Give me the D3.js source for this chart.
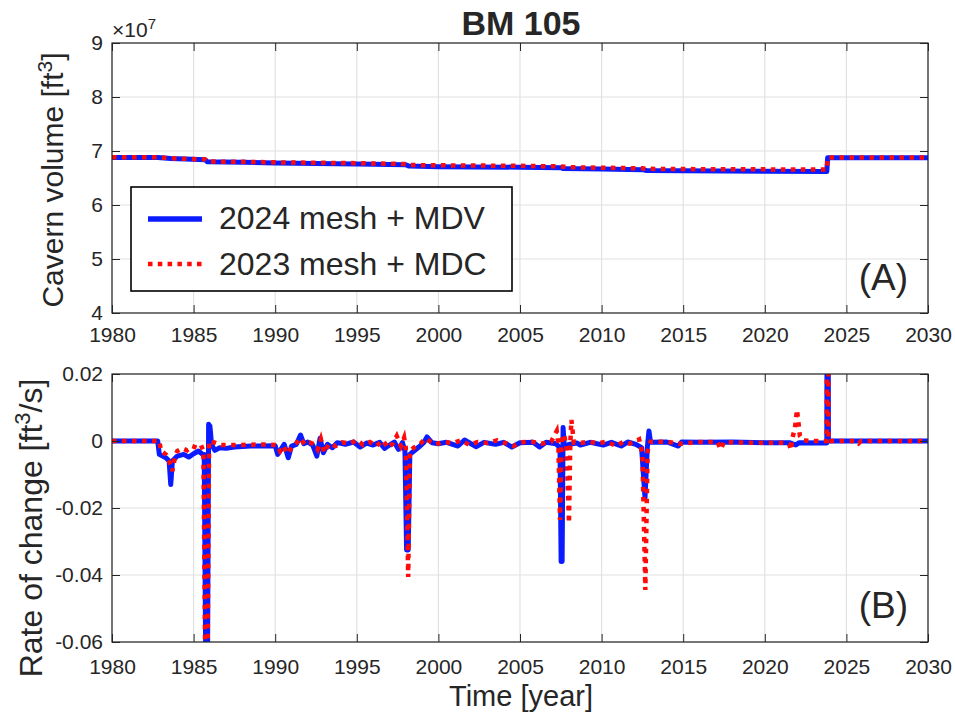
<!DOCTYPE html>
<html>
<head>
<meta charset="utf-8">
<script src="https://cdn.jsdelivr.net/npm/d3@7"></script>
<style>
  body { margin: 0; background: #fff; }
  text { font-family: "Liberation Sans", Arial, sans-serif; fill: #262626; }
</style>
</head>
<body>
<svg id="chart" width="955" height="715"></svg>
<script>
// ---- data ----
const xTicks = [1980, 1985, 1990, 1995, 2000, 2005, 2010, 2015, 2020, 2025, 2030];
const volTicks = [4, 5, 6, 7, 8, 9];            // x 1e7 ft^3
const rateTicks = [-0.06, -0.04, -0.02, 0, 0.02]; // ft^3/s
const seriesNames = ["2024 mesh + MDV", "2023 mesh + MDC"];

// cavern volume, units of 1e7 ft^3
const volMDV = [
  [1980, 6.88], [1982.8, 6.88], [1983.0, 6.875], [1983.6, 6.86], [1984.5, 6.85],
  [1985.7, 6.84], [1985.85, 6.80], [1988, 6.79], [1990, 6.78], [1995, 6.76],
  [1998.0, 6.745], [1998.2, 6.72], [2000, 6.71], [2005, 6.70], [2007.5, 6.69],
  [2007.65, 6.675], [2010, 6.665], [2012.5, 6.655], [2012.75, 6.64], [2015, 6.635],
  [2020, 6.625], [2023.8, 6.62], [2023.85, 6.875], [2030, 6.875]
];
const volMDC = [
  [1980, 6.885], [1982.8, 6.885], [1983.0, 6.88], [1983.6, 6.865], [1984.5, 6.855],
  [1985.7, 6.845], [1985.85, 6.805], [1988, 6.80], [1990, 6.79], [1995, 6.775],
  [1998.0, 6.76], [1998.2, 6.74], [2000, 6.735], [2005, 6.725], [2007.5, 6.715],
  [2008.0, 6.70], [2010, 6.69], [2012.5, 6.68], [2012.75, 6.67], [2015, 6.665],
  [2020, 6.66], [2023.8, 6.655], [2023.85, 6.88], [2030, 6.88]
];

// rate of change, ft^3/s
const rateMDV = [
  [1980, 0], [1982.8, 0], [1982.9, -0.004], [1983.3, -0.005], [1983.5, -0.006],
  [1983.6, -0.013], [1983.7, -0.006], [1984.0, -0.0045], [1984.4, -0.004], [1984.7, -0.0048],
  [1985.0, -0.0038], [1985.3, -0.003], [1985.55, -0.004], [1985.65, -0.004], [1985.75, -0.07],
  [1985.85, -0.07], [1985.92, 0.005], [1986.0, 0.0045], [1986.1, -0.001], [1986.3, -0.0028],
  [1986.6, -0.002], [1987.0, -0.0022], [1987.5, -0.0018], [1988.5, -0.0015], [1990.0, -0.0014],
  [1990.15, -0.004], [1990.35, -0.0025], [1990.55, -0.001], [1990.8, -0.005], [1991.0, -0.0015],
  [1991.3, -0.001], [1991.55, 0.0018], [1991.75, -0.0008], [1992.0, -0.0003], [1992.3, -0.0012],
  [1992.55, -0.0045], [1992.75, 0.0008], [1992.95, -0.0035], [1993.2, -0.001], [1993.5, -0.002],
  [1993.8, -0.0005], [1994.3, -0.001], [1994.8, -0.0003], [1995.2, -0.0018], [1995.6, -0.0006],
  [1996.0, -0.0012], [1996.4, -0.0004], [1996.7, -0.0022], [1997.0, -0.0012], [1997.3, -0.0003],
  [1997.55, -0.0025], [1997.8, -0.0005], [1997.95, -0.003], [1998.05, -0.0325], [1998.15, -0.0325],
  [1998.25, -0.004], [1998.5, -0.003], [1998.8, -0.0018], [1999.1, -0.0005], [1999.3, 0.0012],
  [1999.6, -0.0005], [2000.0, -0.0008], [2000.5, -0.0004], [2001.2, -0.0015], [2001.6, 0.0003],
  [2002.3, -0.0017], [2002.8, -0.0004], [2003.5, -0.001], [2004.0, -0.0004], [2004.5, -0.0018],
  [2005.0, -0.0005], [2005.8, -0.0004], [2006.2, -0.0018], [2006.6, -0.0004], [2007.2, -0.0008],
  [2007.45, -0.002], [2007.52, -0.036], [2007.58, -0.036], [2007.64, 0.004], [2007.72, -0.002],
  [2008.0, -0.001], [2008.5, -0.0006], [2008.7, -0.0012], [2009.3, -0.0004], [2010.1, -0.0012],
  [2010.6, -0.0004], [2011.2, -0.0015], [2011.6, -0.0003], [2012.1, -0.001], [2012.45, -0.002],
  [2012.66, -0.017], [2012.8, -0.002], [2012.9, 0.003], [2013.0, -0.0004], [2014.0, -0.0003],
  [2014.7, -0.0015], [2014.9, -0.0003], [2016.0, -0.0004], [2018.0, -0.0003], [2020.0, -0.0005],
  [2021.5, -0.0005], [2021.9, -0.0012], [2022.1, -0.0005], [2023.8, -0.0006], [2023.82, 0.05],
  [2023.88, 0.05], [2023.9, 0], [2030, 0]
];
const rateMDC = [
  [1980, 0], [1982.9, 0], [1983.0, -0.003], [1983.3, -0.004], [1983.5, -0.006],
  [1983.7, -0.009], [1983.85, -0.005], [1984.0, -0.003], [1984.3, -0.0022], [1984.6, -0.0028],
  [1984.9, -0.0015], [1985.2, -0.002], [1985.45, -0.0012], [1985.6, -0.003], [1985.72, -0.07],
  [1985.85, -0.07], [1985.95, 0], [1986.3, -0.0005], [1986.7, -0.0012], [1987.5, -0.0012],
  [1989.5, -0.001], [1990.1, -0.0012], [1990.3, -0.003], [1990.5, -0.0015], [1990.75, -0.0038],
  [1991.0, -0.002], [1991.3, -0.0006], [1991.55, 0.0008], [1991.8, -0.001], [1992.1, -0.0004],
  [1992.4, -0.001], [1992.6, -0.0025], [1992.8, 0.0005], [1993.0, -0.0035], [1993.3, -0.0008],
  [1993.7, -0.0015], [1994.1, -0.0004], [1994.6, -0.0008], [1995.0, 0.0003], [1995.4, -0.0012],
  [1995.8, -0.0003], [1996.2, -0.0015], [1996.6, 0.0002], [1996.9, -0.002], [1997.2, -0.0008],
  [1997.45, 0.0015], [1997.7, -0.0015], [1997.9, 0.001], [1998.0, -0.002], [1998.15, -0.0406],
  [1998.25, -0.003], [1998.5, -0.002], [1998.9, -0.0008], [1999.2, 0.0008], [1999.5, -0.0002],
  [1999.8, -0.001], [2000.3, -0.0003], [2000.9, -0.0006], [2001.4, 0.0002], [2001.9, -0.0012],
  [2002.4, -0.0003], [2003.0, -0.0006], [2003.6, 0.0002], [2004.2, -0.0008], [2004.6, -0.0015],
  [2005.0, -0.0004], [2005.7, -0.0002], [2006.3, -0.0008], [2006.9, -0.0003], [2007.25, 0.003],
  [2007.35, -0.001], [2007.45, -0.0236], [2007.55, 0.0], [2007.7, 0.002], [2007.85, -0.002],
  [2008.0, -0.0245], [2008.08, -0.001], [2008.15, 0.0063], [2008.3, -0.0005], [2008.8, -0.0005],
  [2009.2, -0.0002], [2009.8, -0.0007], [2010.3, -0.0002], [2010.9, -0.0015], [2011.3, -0.0003],
  [2011.7, -0.0008], [2012.0, -0.0002], [2012.3, 0.0005], [2012.5, -0.004], [2012.68, -0.0445],
  [2012.82, -0.003], [2013.0, -0.0002], [2014.0, -0.0002], [2014.8, -0.0008], [2016.0, -0.0003],
  [2017.1, -0.0003], [2017.3, -0.0025], [2017.5, -0.0003], [2019.0, -0.0005], [2021.2, -0.0005],
  [2021.5, -0.001], [2021.6, -0.0027], [2021.7, 0.001], [2021.85, 0.004], [2021.97, 0.0093],
  [2022.05, 0.006], [2022.15, 0.0015], [2022.35, 0.0002], [2023.0, 0], [2023.8, 0],
  [2023.82, 0.05], [2023.88, 0.05], [2023.9, 0], [2025.6, 0], [2025.75, -0.0007],
  [2025.9, 0], [2030, 0]
];

// ---- layout ----
const svg = d3.select("#chart");
const left = 112, right = 928;
const W = right - left;
const axisColor = "#262626";
const gridColor = "#e2e2e2";
const blue = "#0a1cff";
const red = "#ff0a0a";

function drawPanel(top, bottom, yDomain, yTicks, yFmt, sets, id, labelPad) {
  const H = bottom - top;
  const g = svg.append("g").attr("transform", `translate(${left},${top})`);
  const x = d3.scaleLinear().domain([1980, 2030]).range([0, W]);
  const y = d3.scaleLinear().domain(yDomain).range([H, 0]);

  // grid
  g.append("g").selectAll("line").data(xTicks).join("line")
    .attr("x1", d => x(d)).attr("x2", d => x(d)).attr("y1", 0).attr("y2", H)
    .attr("stroke", gridColor).attr("stroke-width", 1.2);
  g.append("g").selectAll("line").data(yTicks).join("line")
    .attr("x1", 0).attr("x2", W).attr("y1", d => y(d)).attr("y2", d => y(d))
    .attr("stroke", gridColor).attr("stroke-width", 1.2);

  g.append("clipPath").attr("id", id).append("rect")
    .attr("width", W).attr("height", H);

  const line = d3.line().x(d => x(d[0])).y(d => y(d[1]));
  const plot = g.append("g").attr("clip-path", `url(#${id})`);
  plot.append("path").datum(sets[0])
    .attr("fill", "none").attr("stroke", blue).attr("stroke-width", 5)
    .attr("stroke-linejoin", "round").attr("d", line);
  plot.append("path").datum(sets[1])
    .attr("fill", "none").attr("stroke", red).attr("stroke-width", 4.5)
    .attr("stroke-dasharray", "4.5 5.5").attr("d", line);

  // axes (ticks inward, box on)
  const styleAxis = sel => {
    sel.select(".domain").remove();
    sel.selectAll("line").attr("stroke", axisColor);
    sel.selectAll("text").style("font-size", "21px").attr("fill", axisColor)
      .style("font-family", "'Liberation Sans', Arial, sans-serif");
  };
  g.append("g").attr("transform", `translate(0,${H})`)
    .call(d3.axisBottom(x).tickValues(xTicks).tickFormat(d3.format("d"))
      .tickSizeInner(-8).tickSizeOuter(0).tickPadding(labelPad))
    .call(styleAxis);
  g.append("g")
    .call(d3.axisTop(x).tickValues(xTicks).tickFormat("").tickSizeInner(-8).tickSizeOuter(0))
    .call(styleAxis);
  g.append("g")
    .call(d3.axisLeft(y).tickValues(yTicks).tickFormat(yFmt)
      .tickSizeInner(-8).tickSizeOuter(0).tickPadding(9))
    .call(styleAxis);
  g.append("g").attr("transform", `translate(${W},0)`)
    .call(d3.axisRight(y).tickValues(yTicks).tickFormat("").tickSizeInner(-8).tickSizeOuter(0))
    .call(styleAxis);

  g.append("rect").attr("width", W).attr("height", H)
    .attr("fill", "none").attr("stroke", axisColor).attr("stroke-width", 1.2);
  return g;
}

// panel A
const gA = drawPanel(43, 313, [4, 9], volTicks, d3.format("d"), [volMDV, volMDC], "clipA", 14);
// panel B
const gB = drawPanel(374, 642, [-0.06, 0.02], rateTicks,
  d => d === 0 ? "0" : d.toFixed(2), [rateMDV, rateMDC], "clipB", 17);

// title
svg.append("text").attr("x", 521).attr("y", 35).attr("text-anchor", "middle")
  .style("font-size", "34px").style("font-weight", "bold").attr("fill", "#000")
  .text("BM 105");

// exponent label
const ex = svg.append("text").attr("x", 112).attr("y", 37).style("font-size", "21px");
ex.append("tspan").text("\u00d710");
ex.append("tspan").attr("baseline-shift", "super").style("font-size", "15px").text("7");

// y labels
const yl1 = svg.append("text").attr("transform", "translate(63,180) rotate(-90)")
  .attr("text-anchor", "middle").style("font-size", "30px");
yl1.append("tspan").text("Cavern volume [ft");
yl1.append("tspan").attr("baseline-shift", "super").style("font-size", "21px").text("3");
yl1.append("tspan").text("]");

const yl2 = svg.append("text").attr("transform", "translate(42,528) rotate(-90)")
  .attr("text-anchor", "middle").style("font-size", "32px");
yl2.append("tspan").text("Rate of change [ft");
yl2.append("tspan").attr("baseline-shift", "super").style("font-size", "22px").text("3");
yl2.append("tspan").text("/s]");

// x label
svg.append("text").attr("x", 521).attr("y", 706).attr("text-anchor", "middle")
  .style("font-size", "29px").text("Time [year]");

// panel tags
svg.append("text").attr("x", 908).attr("y", 290).attr("text-anchor", "end")
  .style("font-size", "37px").attr("fill", "#000").text("(A)");
svg.append("text").attr("x", 908).attr("y", 618).attr("text-anchor", "end")
  .style("font-size", "37px").attr("fill", "#000").text("(B)");

// legend
const leg = svg.append("g");
leg.append("rect").attr("x", 131).attr("y", 187).attr("width", 381).attr("height", 104)
  .attr("fill", "#fff").attr("stroke", "#000").attr("stroke-width", 1.6);
const legStyles = [
  { color: blue, width: 5.5, dash: null },
  { color: red, width: 4.5, dash: "4.5 5.3" }
];
seriesNames.forEach((name, i) => {
  const yy = 219 + i * 45;
  const s = leg.append("line").attr("x1", 148).attr("x2", 202).attr("y1", yy).attr("y2", yy)
    .attr("stroke", legStyles[i].color).attr("stroke-width", legStyles[i].width);
  if (legStyles[i].dash) s.attr("stroke-dasharray", legStyles[i].dash);
  leg.append("text").attr("x", 219).attr("y", 229 + i * 46)
    .style("font-size", "32px").attr("fill", "#000").text(name);
});
</script>
</body>
</html>
